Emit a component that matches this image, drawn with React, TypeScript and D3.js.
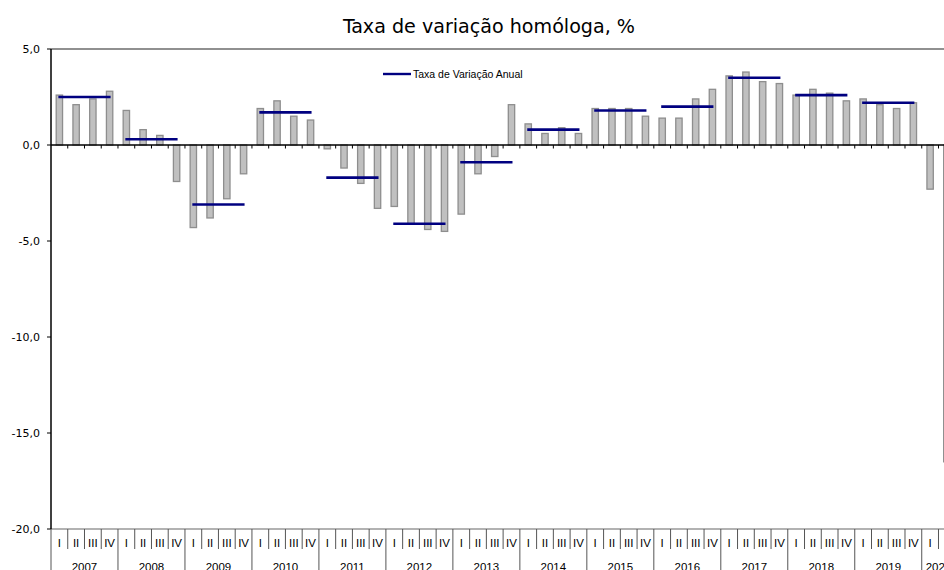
import * as d3 from 'd3'

// quarters 2007 Q1 .. 2020 Q2, year-on-year change, %
const years = ['2007', '2008', '2009', '2010', '2011', '2012', '2013', '2014', '2015', '2016', '2017', '2018', '2019', '2020']
const quarterNames = ['I', 'II', 'III', 'IV']
const quarterValues = [
  2.6, 2.1, 2.4, 2.8,
  1.8, 0.8, 0.5, -1.9,
  -4.3, -3.8, -2.8, -1.5,
  1.9, 2.3, 1.5, 1.3,
  -0.2, -1.2, -2.0, -3.3,
  -3.2, -4.1, -4.4, -4.5,
  -3.6, -1.5, -0.6, 2.1,
  1.1, 0.6, 0.9, 0.6,
  1.9, 1.9, 1.9, 1.5,
  1.4, 1.4, 2.4, 2.9,
  3.6, 3.8, 3.3, 3.2,
  2.6, 2.9, 2.7, 2.3,
  2.4, 2.1, 1.9, 2.2,
  -2.3, -16.5,
]
// annual rate, 2007 .. 2019
const annualValues = [2.5, 0.3, -3.1, 1.7, -1.7, -4.1, -0.9, 0.8, 1.8, 2.0, 3.5, 2.6, 2.2]
const yTicks = [5, 0, -5, -10, -15, -20]

const W = 944
const H = 570
const left = 51
const qw = 16.745

export default function App() {
  const keys = quarterValues.map((_, i) => `${years[Math.floor(i / 4)]}-${quarterNames[i % 4]}`)
  const x = d3
    .scaleBand<string>()
    .domain(keys)
    .range([left, left + keys.length * qw])
  const y = d3.scaleLinear().domain([-20, 5]).range([529, 49])
  const bw = x.bandwidth()
  const barW = bw * 0.38
  const right = left + keys.length * qw
  // Portuguese decimal comma, plain hyphen for negatives
  const fmt = (v: number) => d3.format('.1f')(v).replace('.', ',').replace('\u2212', '-')

  const tickFont = "'DejaVu Sans', Verdana, sans-serif"
  const arial = "'Liberation Sans', Arial, sans-serif"

  return (
    <svg
      width={W}
      height={H}
      style={{ position: 'absolute', left: 0, top: 0, background: '#fff', overflow: 'hidden' }}
    >
      <text
        x={489}
        y={33}
        textAnchor="middle"
        fontFamily="'DejaVu Sans Condensed', 'DejaVu Sans', sans-serif"
        fontSize={20}
        textLength={292}
        lengthAdjust="spacingAndGlyphs"
        fill="#000"
      >
        Taxa de variação homóloga, %
      </text>

      {/* plot frame */}
      <line x1={left} x2={right} y1={y(5)} y2={y(5)} stroke="#222" strokeWidth={1.2} />
      <line x1={left} x2={right} y1={y(-20)} y2={y(-20)} stroke="#666" strokeWidth={1.2} />

      {/* bars */}
      {quarterValues.map((v, i) => {
        const cx = (x(keys[i]) ?? 0) + bw / 2
        const y0 = y(Math.max(0, v))
        const y1 = y(Math.min(0, v))
        return (
          <rect
            key={keys[i]}
            x={cx - barW / 2}
            y={y0}
            width={barW}
            height={Math.max(y1 - y0, 0.5)}
            fill="#c0c0c0"
            stroke="#8e8e8e"
            strokeWidth={1.3}
          />
        )
      })}

      {/* zero line with quarter ticks */}
      <line x1={left} x2={right} y1={y(0)} y2={y(0)} stroke="#000" strokeWidth={1.3} />
      {keys.map((k, i) =>
        i === 0 ? null : (
          <line key={k} x1={x(k)} x2={x(k)} y1={y(0)} y2={y(0) + 3.5} stroke="#000" strokeWidth={1} />
        )
      )}

      {/* annual rate */}
      {annualValues.map((v, i) => {
        const x1 = (x(keys[i * 4]) ?? 0) + bw / 2 - 1
        const x2 = (x(keys[i * 4 + 3]) ?? 0) + bw / 2 + 1
        return <line key={i} x1={x1} x2={x2} y1={y(v)} y2={y(v)} stroke="#000080" strokeWidth={2.6} />
      })}

      {/* y axis */}
      <line x1={left} x2={left} y1={y(5)} y2={y(-20)} stroke="#000" strokeWidth={1.5} />
      {yTicks.map(t => (
        <g key={t}>
          <line x1={left - 4} x2={left} y1={y(t)} y2={y(t)} stroke="#000" />
          <text
            x={40}
            y={y(t)}
            dy="0.35em"
            textAnchor="end"
            fontFamily={tickFont}
            fontSize={11}
            fill="#000"
          >
            {fmt(t)}
          </text>
        </g>
      ))}

      {/* category axis */}
      {keys.map((k, i) => {
        const x0 = x(k) ?? 0
        const isYear = i % 4 === 0
        return (
          <g key={k}>
            <line
              x1={x0}
              x2={x0}
              y1={y(-20)}
              y2={isYear ? H : 549}
              stroke="#555"
              strokeWidth={1}
            />
            <text
              x={x0 + bw / 2}
              y={547}
              textAnchor="middle"
              fontFamily={arial}
              fontSize={11.5}
              fill="#000"
            >
              {quarterNames[i % 4]}
            </text>
          </g>
        )
      })}
      {years.map((yr, i) => {
        const first = x(keys[i * 4]) ?? 0
        const n = Math.min(4, keys.length - i * 4)
        return (
          <text
            key={yr}
            x={first + (n * qw) / 2}
            y={571}
            textAnchor="middle"
            fontFamily={arial}
            fontSize={11.5}
            fill="#000"
          >
            {yr}
          </text>
        )
      })}

      {/* legend */}
      <line x1={383} x2={411} y1={74} y2={74} stroke="#000080" strokeWidth={2.4} />
      <text x={413} y={74} dy="0.35em" fontFamily={arial} fontSize={10.5} fill="#000">
        Taxa de Variação Anual
      </text>
    </svg>
  )
}
